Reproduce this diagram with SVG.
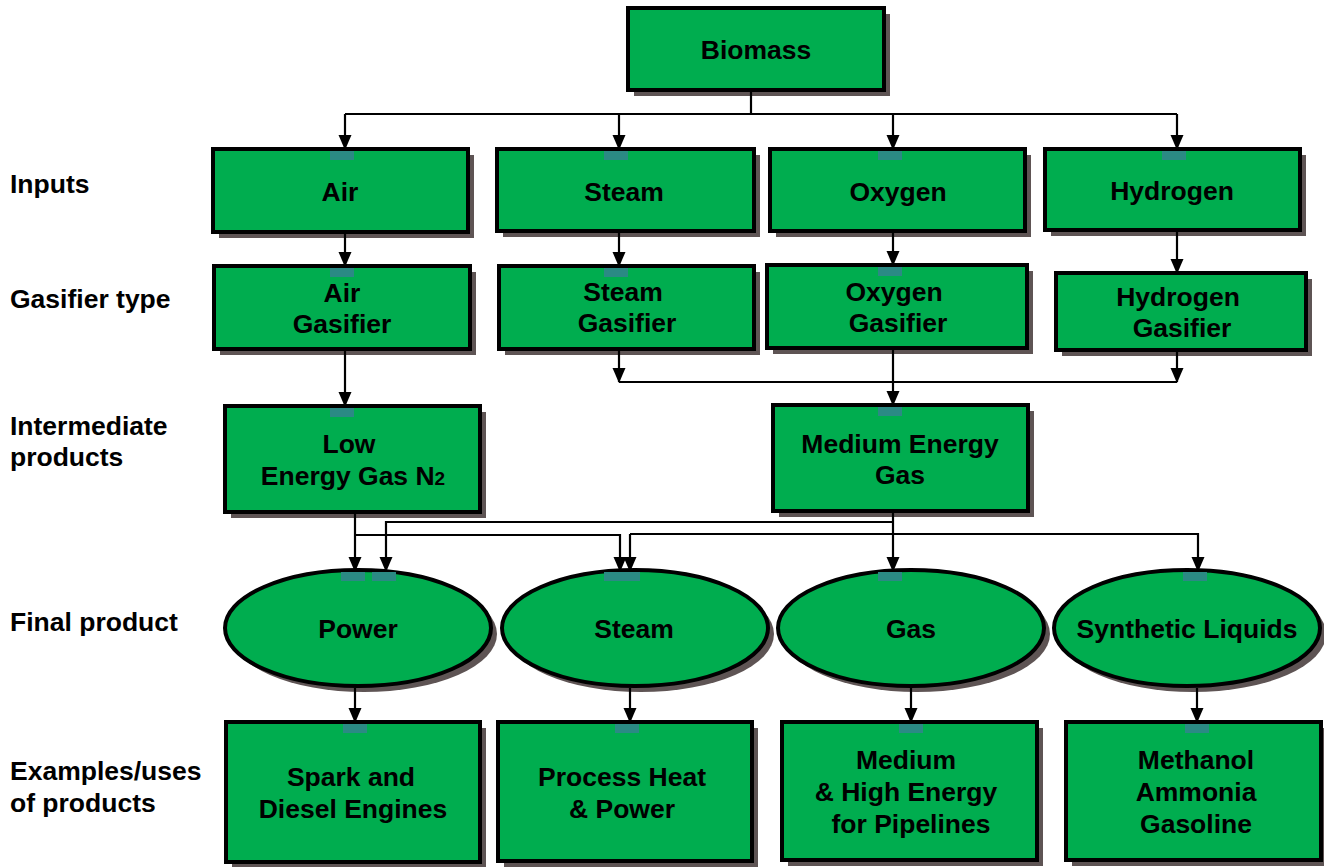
<svg xmlns="http://www.w3.org/2000/svg" width="1324" height="867" viewBox="0 0 1324 867">
<defs>
<style>
.box{fill:#00ad4f;stroke:#000;stroke-width:4}
.sh{fill:#5e5454}
.tm{fill:#2b8a84}
.t{font-family:"Liberation Sans",Arial,sans-serif;font-weight:bold;font-size:26.5px;fill:#000;text-anchor:middle}
.lb{font-family:"Liberation Sans",Arial,sans-serif;font-weight:bold;font-size:26.5px;fill:#000}
.c{fill:none;stroke:#000;stroke-width:2.2}
.ca{fill:none;stroke:#000;stroke-width:2.2;marker-end:url(#ah)}
</style>
<marker id="ah" markerUnits="userSpaceOnUse" markerWidth="16" markerHeight="16" viewBox="0 0 16 16" refX="14" refY="8" orient="auto">
<path d="M0,1.5 L15,8 L0,14.5 Z" fill="#000"/>
</marker>
</defs>
<rect width="1324" height="867" fill="#fff"/>

<g id="labels">
<text class="lb" x="10" y="193">Inputs</text>
<text class="lb" x="10" y="308">Gasifier type</text>
<text class="lb" x="10" y="435">Intermediate</text>
<text class="lb" x="10" y="466">products</text>
<text class="lb" x="10" y="631">Final product</text>
<text class="lb" x="10" y="780">Examples/uses</text>
<text class="lb" x="10" y="812">of products</text>
</g>

<g id="n-biomass"><rect class="sh" x="634" y="14" width="256" height="82"/><rect class="box" x="628" y="8" width="256" height="82"/><text class="t" x="756" y="59">Biomass</text></g>

<g id="n-air"><rect class="sh" x="219" y="155" width="255" height="83"/><rect class="box" x="213" y="149" width="255" height="83"/><rect class="tm" x="330" y="151" width="24" height="9"/><text class="t" x="340" y="201">Air</text></g>
<g id="n-steam"><rect class="sh" x="503" y="155" width="257" height="82"/><rect class="box" x="497" y="149" width="257" height="82"/><rect class="tm" x="604" y="151" width="24" height="9"/><text class="t" x="624" y="201">Steam</text></g>
<g id="n-oxygen"><rect class="sh" x="776" y="155" width="255" height="82"/><rect class="box" x="770" y="149" width="255" height="82"/><rect class="tm" x="878" y="151" width="24" height="9"/><text class="t" x="898" y="201">Oxygen</text></g>
<g id="n-hydrogen"><rect class="sh" x="1051" y="155" width="255" height="81"/><rect class="box" x="1045" y="149" width="255" height="81"/><rect class="tm" x="1162" y="151" width="24" height="9"/><text class="t" x="1172" y="200">Hydrogen</text></g>

<g id="n-airgas"><rect class="sh" x="220" y="272" width="256" height="83"/><rect class="box" x="214" y="266" width="256" height="83"/><rect class="tm" x="330" y="268" width="24" height="9"/><text class="t" x="342" y="302">Air</text><text class="t" x="342" y="333">Gasifier</text></g>
<g id="n-steamgas"><rect class="sh" x="505" y="272" width="255" height="83"/><rect class="box" x="499" y="266" width="255" height="83"/><rect class="tm" x="604" y="268" width="24" height="9"/><text class="t" x="623" y="301">Steam</text><text class="t" x="627" y="332">Gasifier</text></g>
<g id="n-oxygas"><rect class="sh" x="773" y="271" width="260" height="83"/><rect class="box" x="767" y="265" width="260" height="83"/><rect class="tm" x="878" y="267" width="24" height="9"/><text class="t" x="894" y="301">Oxygen</text><text class="t" x="898" y="332">Gasifier</text></g>
<g id="n-hydgas"><rect class="sh" x="1062" y="279" width="250" height="77"/><rect class="box" x="1056" y="273" width="250" height="77"/><text class="t" x="1178" y="306">Hydrogen</text><text class="t" x="1182" y="337">Gasifier</text></g>

<g id="n-lowgas"><rect class="sh" x="231" y="412" width="255" height="106"/><rect class="box" x="225" y="406" width="255" height="106"/><rect class="tm" x="330" y="408" width="24" height="9"/><text class="t" x="349" y="453">Low</text><text class="t" x="353" y="485">Energy Gas N<tspan font-size="19">2</tspan></text></g>
<g id="n-medgas"><rect class="sh" x="779" y="411" width="255" height="106"/><rect class="box" x="773" y="405" width="255" height="106"/><rect class="tm" x="878" y="407" width="24" height="9"/><text class="t" x="900" y="453">Medium Energy</text><text class="t" x="900" y="484">Gas</text></g>

<g id="n-power"><ellipse class="sh" cx="364" cy="634" rx="133" ry="58"/><ellipse class="box" cx="358" cy="628" rx="133" ry="58"/><rect class="tm" x="341" y="572" width="24" height="9"/><rect class="tm" x="372" y="572" width="24" height="9"/><text class="t" x="358" y="638">Power</text></g>
<g id="n-steamp"><ellipse class="sh" cx="641" cy="634" rx="133" ry="58"/><ellipse class="box" cx="635" cy="628" rx="133" ry="58"/><rect class="tm" x="604" y="572" width="36" height="9"/><text class="t" x="634" y="638">Steam</text></g>
<g id="n-gas"><ellipse class="sh" cx="917" cy="634" rx="133" ry="58"/><ellipse class="box" cx="911" cy="628" rx="133" ry="58"/><rect class="tm" x="878" y="572" width="24" height="9"/><text class="t" x="911" y="638">Gas</text></g>
<g id="n-synth"><ellipse class="sh" cx="1193" cy="634" rx="133" ry="58"/><ellipse class="box" cx="1187" cy="628" rx="133" ry="58"/><rect class="tm" x="1183" y="572" width="24" height="9"/><text class="t" x="1187" y="638">Synthetic Liquids</text></g>

<g id="n-spark"><rect class="sh" x="232" y="728" width="254" height="140"/><rect class="box" x="226" y="722" width="254" height="140"/><rect class="tm" x="343" y="724" width="24" height="9"/><text class="t" x="351" y="786">Spark and</text><text class="t" x="353" y="818">Diesel Engines</text></g>
<g id="n-process"><rect class="sh" x="504" y="728" width="254" height="139"/><rect class="box" x="498" y="722" width="254" height="139"/><rect class="tm" x="615" y="724" width="24" height="9"/><text class="t" x="622" y="786">Process Heat</text><text class="t" x="622" y="818">&amp; Power</text></g>
<g id="n-medhigh"><rect class="sh" x="788" y="728" width="255" height="138"/><rect class="box" x="782" y="722" width="255" height="138"/><rect class="tm" x="899" y="724" width="24" height="9"/><text class="t" x="906" y="769">Medium</text><text class="t" x="906" y="801">&amp; High Energy</text><text class="t" x="911" y="833">for Pipelines</text></g>
<g id="n-methanol"><rect class="sh" x="1072" y="728" width="255" height="138"/><rect class="box" x="1066" y="722" width="255" height="138"/><rect class="tm" x="1185" y="724" width="24" height="9"/><text class="t" x="1196" y="769">Methanol</text><text class="t" x="1196" y="801">Ammonia</text><text class="t" x="1196" y="833">Gasoline</text></g>

<g id="connectors">
<path class="c" d="M751,92 V114 M345,114 H1177"/>
<path class="ca" d="M345,114 V149"/>
<path class="ca" d="M619,114 V149"/>
<path class="ca" d="M893,114 V149"/>
<path class="ca" d="M1177,114 V149"/>
<path class="ca" d="M345,234 V266"/>
<path class="ca" d="M619,233 V266"/>
<path class="ca" d="M893,233 V265"/>
<path class="ca" d="M1177,232 V273"/>
<path class="ca" d="M345,351 V406"/>
<path class="ca" d="M619,351 V382"/>
<path class="ca" d="M1177,352 V382"/>
<path class="c" d="M619,382 H1177"/>
<path class="ca" d="M893,350 V405"/>
<path class="ca" d="M355,514 V571"/>
<path class="ca" d="M355,535 H620 V571"/>
<path class="ca" d="M893,513 V571"/>
<path class="ca" d="M893,522 H386 V571"/>
<path class="ca" d="M630,534 H1198 V571"/>
<path class="ca" d="M630,534 V571"/>
<path class="ca" d="M355,688 V722"/>
<path class="ca" d="M630,688 V722"/>
<path class="ca" d="M911,688 V722"/>
<path class="ca" d="M1197,688 V722"/>
</g>
</svg>
